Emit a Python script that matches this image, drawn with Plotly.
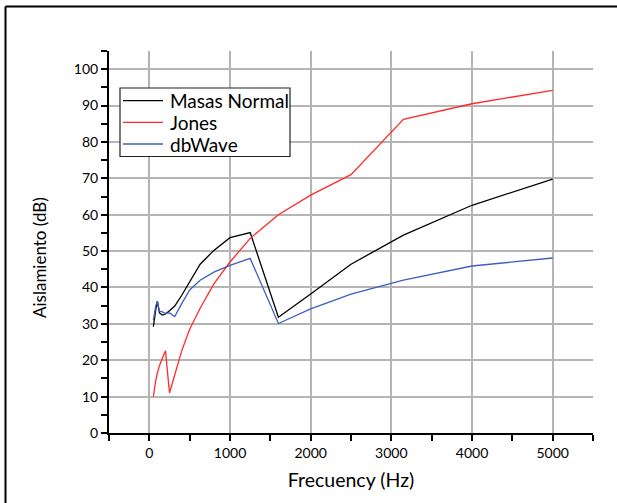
import plotly.graph_objects as go

# Third-octave band centre frequencies (Hz)
freq = [50, 63, 80, 100, 125, 160, 200, 250, 315, 400, 500, 630, 800,
        1000, 1250, 1600, 2000, 2500, 3150, 4000, 5000]

# Sound insulation (dB) per method
masas_normal = [29.2, 31.5, 34.0, 36.2, 33.0, 32.4, 32.7, 33.6, 34.9, 37.8, 41.6,
                46.4, 50.2, 53.7, 55.1, 31.8, 38.2, 46.4, 54.4, 62.6, 69.8]
jones = [10.0, 12.5, 14.5, 16.5, 18.5, 20.5, 22.6, 11.0, 16.0, 22.5, 28.5,
         34.3, 41.0, 47.0, 53.5, 60.0, 65.4, 71.0, 86.2, 90.5, 94.2]
dbwave = [31.0, 33.0, 35.0, 36.2, 33.5, 33.3, 32.9, 33.0, 32.0, 35.5, 39.3,
          42.0, 44.2, 46.1, 48.0, 30.1, 34.1, 38.2, 42.0, 45.9, 48.1]

series = [
    ("Masas Normal", masas_normal, "#000000"),
    ("Jones", jones, "#ff2a2a"),
    ("dbWave", dbwave, "#3f5fbf"),
]

FONT = "Lato"

# Plot area geometry in pixels (used to place the frame, legend box and titles)
W, H = 617, 503
L, R, T, B = 109, 24, 51, 70
PW, PH = W - L - R, H - T - B


def px(x):
    return (x - L) / PW


def py(y):
    return (H - B - y) / PH


fig = go.Figure()
for name, vals, color in series:
    fig.add_trace(go.Scatter(
        x=freq, y=vals, mode="lines", name=name, showlegend=False,
        line=dict(color=color, width=1.3),
    ))

axis_common = dict(
    showline=True, linecolor="black", linewidth=2,
    ticks="outside", ticklen=6, tickwidth=2, tickcolor="black",
    showgrid=True, gridcolor="#b4b4b4", gridwidth=1.5,
    zeroline=False, mirror=False,
    tickfont=dict(family=FONT, size=14, color="black"),
)

fig.update_xaxes(
    range=[-500, 5500], tick0=0, dtick=1000,
    minor=dict(dtick=500, ticks="outside", ticklen=6, tickwidth=2,
               tickcolor="black", showgrid=False),
    title=dict(text="Frecuency (Hz)", font=dict(family=FONT, size=19.5, color="black"),
               standoff=14),
    **axis_common,
)
fig.update_yaxes(
    range=[0, 105], tick0=0, dtick=10,
    minor=dict(dtick=5, ticks="outside", ticklen=6, tickwidth=2,
               tickcolor="black", showgrid=False),
    **axis_common,
)

# Y axis title, placed slightly below the plot's vertical centre
fig.add_annotation(xref="paper", yref="paper", x=px(39), y=py(258),
                   xanchor="center", yanchor="middle", showarrow=False,
                   textangle=-90, text="Aislamiento (dB)",
                   font=dict(family=FONT, size=17, color="black"))

# Page frame: top and left edges
fig.add_shape(type="line", xref="paper", yref="paper",
              x0=px(5.5), x1=px(W), y0=py(6.5), y1=py(6.5),
              line=dict(color="black", width=2))
fig.add_shape(type="line", xref="paper", yref="paper",
              x0=px(5.5), x1=px(5.5), y0=py(6.5), y1=py(H),
              line=dict(color="black", width=2))

# Legend box with a line sample and label per series
fig.add_shape(type="rect", xref="paper", yref="paper", layer="above",
              x0=px(120), x1=px(290), y0=py(88), y1=py(156.5),
              fillcolor="white", line=dict(color="#222222", width=1.2))
row_y = [100.7, 122.3, 144.0]
for (name, _, color), ry in zip(series, row_y):
    fig.add_shape(type="line", xref="paper", yref="paper", layer="above",
                  x0=px(123), x1=px(163), y0=py(ry), y1=py(ry),
                  line=dict(color=color, width=1.3))
    fig.add_annotation(xref="paper", yref="paper", x=px(168), y=py(ry),
                       xanchor="left", yanchor="middle", showarrow=False,
                       text=name, font=dict(family=FONT, size=19, color="black"))

fig.update_layout(
    width=W, height=H,
    margin=dict(l=L, r=R, t=T, b=B),
    paper_bgcolor="white", plot_bgcolor="white",
    showlegend=False,
)

fig.write_html("out.html")
